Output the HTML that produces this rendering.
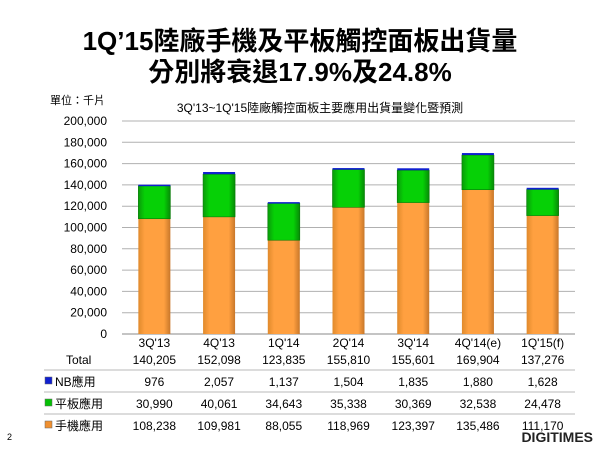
<!DOCTYPE html>
<html><head><meta charset="utf-8"><style>
body{margin:0;width:600px;height:450px;background:#fff;font-family:"Liberation Sans","Noto Sans CJK TC",sans-serif;overflow:hidden}
</style></head><body>
<svg width="600" height="450" xmlns="http://www.w3.org/2000/svg" font-family="Liberation Sans, Noto Sans CJK TC, sans-serif">
<defs>
<linearGradient id="go" x1="0" x2="1"><stop offset="0" stop-color="#e08a2c"/><stop offset="0.2" stop-color="#ffa040"/><stop offset="0.8" stop-color="#ffa040"/><stop offset="1" stop-color="#c8772a"/></linearGradient>
<linearGradient id="gg" x1="0" x2="1"><stop offset="0" stop-color="#0a9a0a"/><stop offset="0.2" stop-color="#06d006"/><stop offset="0.8" stop-color="#06d006"/><stop offset="1" stop-color="#078a07"/></linearGradient>
</defs>
<text x="300" y="50" text-anchor="middle" font-size="26" font-weight="bold">1Q’15陸廠手機及平板觸控面板出貨量</text>
<text x="300" y="81" text-anchor="middle" font-size="26" font-weight="bold">分別將衰退17.9%及24.8%</text>
<text x="50" y="104" font-size="11">單位：千片</text>
<text x="320" y="112" text-anchor="middle" font-size="12">3Q'13~1Q'15陸廠觸控面板主要應用出貨量變化暨預測</text>
<g id="grid"></g><g id="bars"></g><g id="table"></g>
<text x="7" y="440" font-size="9">2</text>
<text x="593" y="442" text-anchor="end" font-size="14" font-weight="bold" fill="#222">DIGITIMES</text>
</svg>
<script>
const categories=["3Q'13","4Q'13","1Q'14","2Q'14","3Q'14","4Q'14(e)","1Q'15(f)"];
const nb=[976,2057,1137,1504,1835,1880,1628];
const tablet=[30990,40061,34643,35338,30369,32538,24478];
const phone=[108238,109981,88055,118969,123397,135486,111170];
const totals=[140205,152098,123835,155810,155601,169904,137276];
const ticks=[0,20000,40000,60000,80000,100000,120000,140000,160000,180000,200000];
const NS='http://www.w3.org/2000/svg';
const x0=122,x1=575,y0=334,y1=121,bw=32;
const band=(x1-x0)/categories.length;
const y=v=>y0-(v/200000)*(y0-y1);
const xc=i=>x0+band*(i+0.5);
const fmt=v=>v.toLocaleString('en-US');
function mk(tag,at,parent,txt){const e=document.createElementNS(NS,tag);for(const k in at)e.setAttribute(k,at[k]);if(txt!=null)e.textContent=txt;parent.appendChild(e);return e;}
const grid=document.getElementById('grid');
ticks.forEach(t=>{
 const l=mk('line',{x1:x0,x2:x1,y1:y(t),y2:y(t),stroke:t===0?'#888':'#b0b0b0','stroke-width':1},grid);
 
 
 const tx=mk('text',{x:107,y:y(t)+4,'text-anchor':'end','font-size':12},grid,fmt(t));
 
 
});
const bars=document.getElementById('bars');
categories.forEach((c,i)=>{
 const bx=xc(i)-bw/2;
 const p=mk('rect',{x:bx,y:y(phone[i]),width:bw,height:y0-y(phone[i]),fill:'url(#go)'},bars);
 
 
 const t=mk('rect',{x:bx,y:y(phone[i]+tablet[i]),width:bw,height:y(phone[i])-y(phone[i]+tablet[i]),fill:'url(#gg)',stroke:'#067a06','stroke-width':0.6},bars);
 
 
 const s=phone[i]+tablet[i];
 const n=mk('rect',{x:bx,y:y(s+nb[i]),width:bw,height:Math.max(1.5,y(s)-y(s+nb[i])),fill:'#1020d0'},bars);
 
 
});
const tb=document.getElementById('table');
const rows=[{label:'Total',vals:totals,y:364,col:null},{label:'NB應用',vals:nb,y:386,col:'#1020d0'},{label:'平板應用',vals:tablet,y:408,col:'#06c006'},{label:'手機應用',vals:phone,y:430,col:'#f09030'}];
categories.forEach((c,i)=>{
 const e=mk('text',{x:xc(i),y:347,'text-anchor':'middle','font-size':12},tb,c);
 
 
});
rows.forEach((r,ri)=>{
 const lx=r.col?55:66;
 if(r.col){const sq=mk('rect',{x:45,y:r.y-9,width:7,height:7,fill:r.col,stroke:'#666','stroke-width':0.5},tb);
  
  }
 const lb=mk('text',{x:lx,y:r.y,'font-size':12},tb,r.label);
 
 
 r.vals.forEach((v,i)=>{
  const e=mk('text',{x:xc(i),y:r.y,'text-anchor':'middle','font-size':12},tb,fmt(v));
  
  
 });
 if(ri<3){const l=mk('line',{x1:44,x2:575,y1:r.y+6,y2:r.y+6,stroke:'#c8c8c8','stroke-width':1.2},tb);
  
  }
});
</script>
</body></html>
